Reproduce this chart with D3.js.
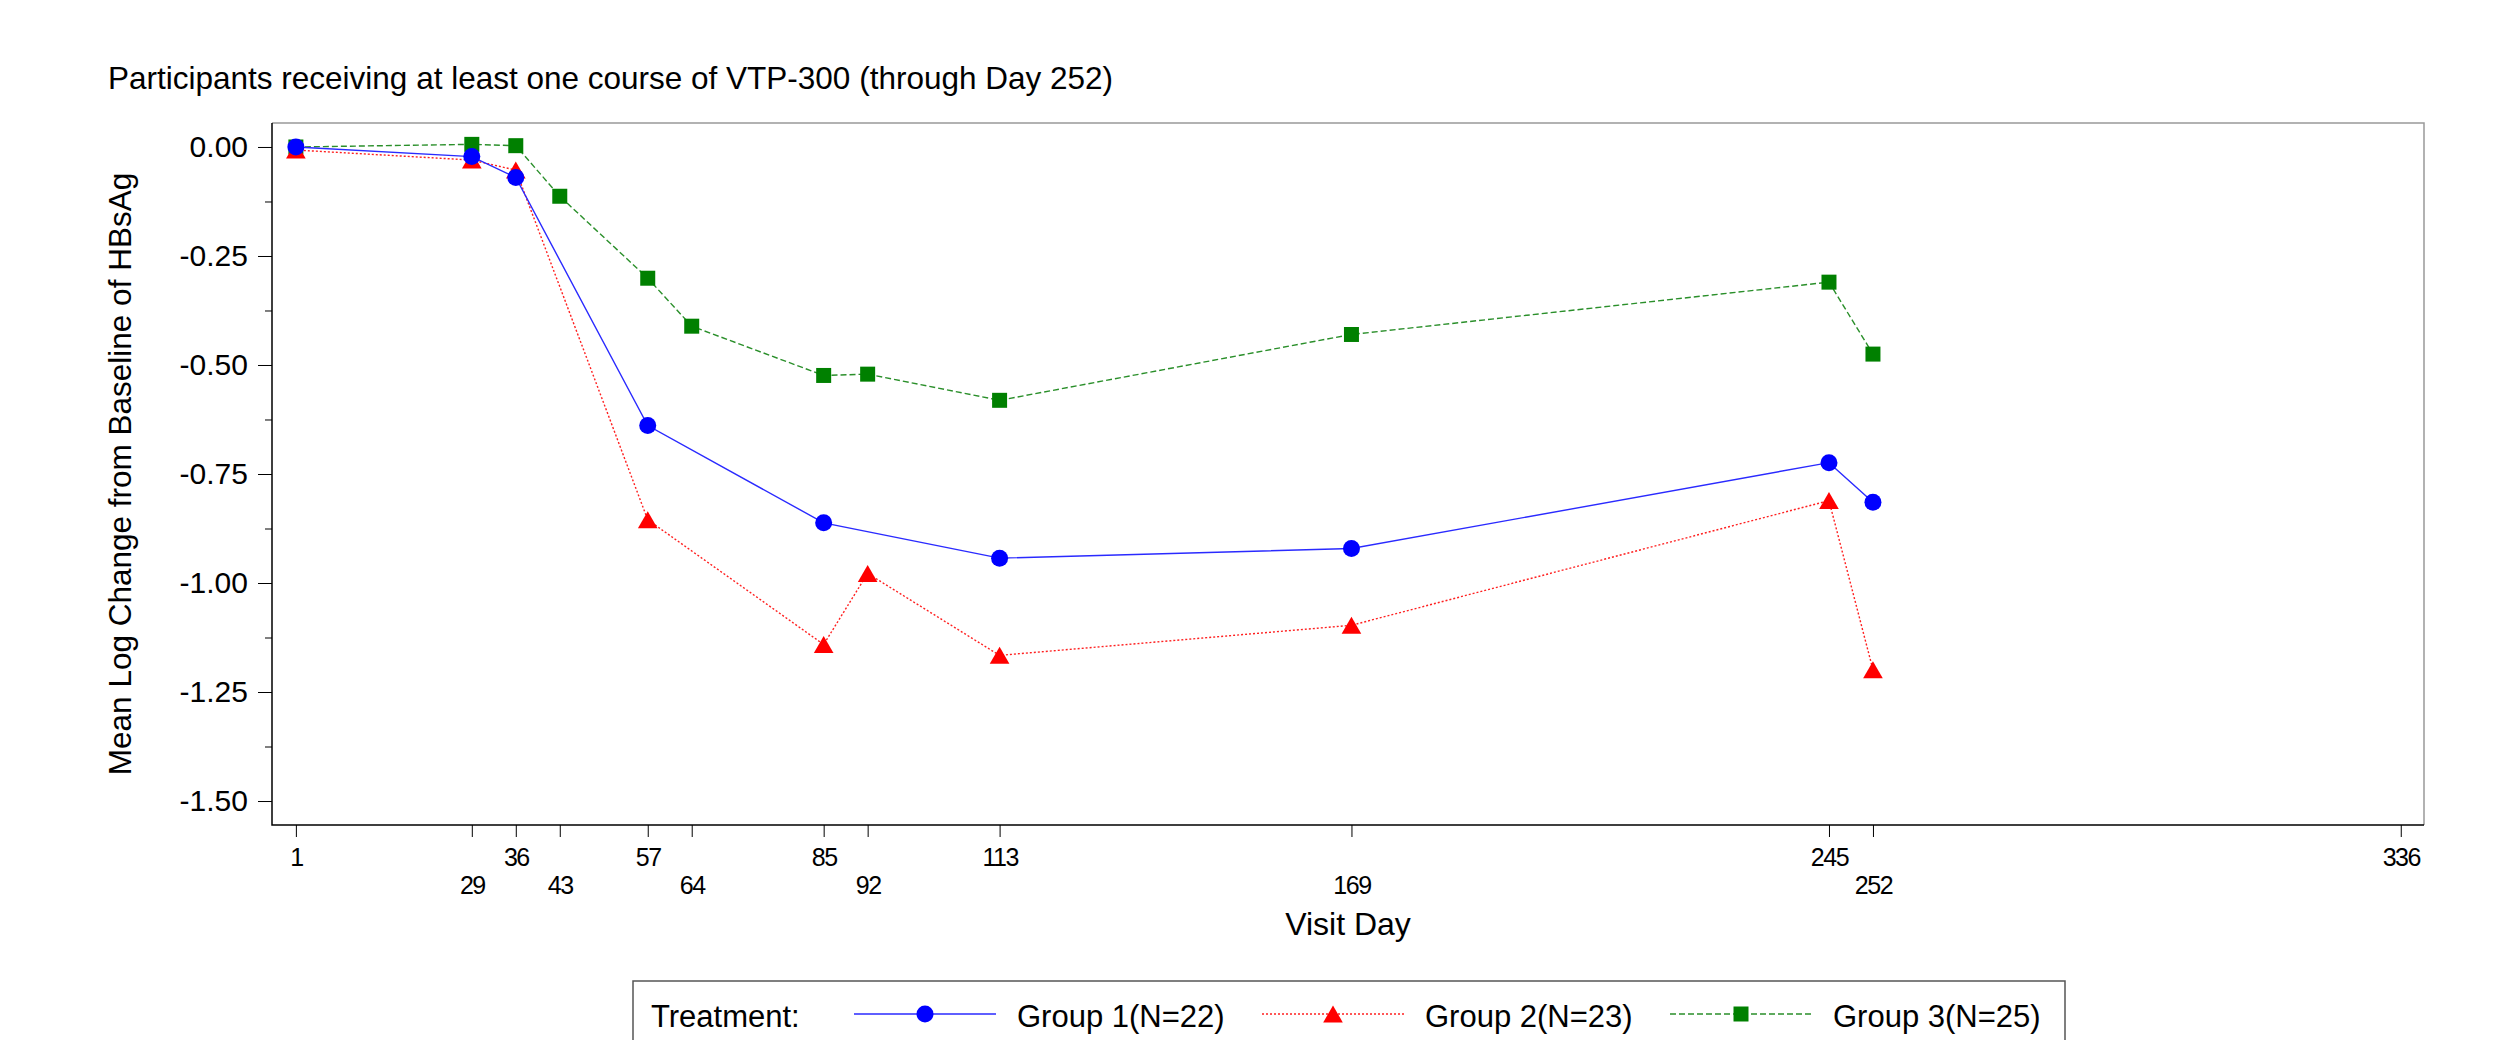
<!DOCTYPE html>
<html lang="en">
<head>
<meta charset="utf-8">
<script src="https://d3js.org/d3.v7.min.js"></script>
<style>
  body { margin: 0; background: #fff; }
  text { font-family: "Liberation Sans", Arial, sans-serif; fill: #000; }
</style>
</head>
<body>
<script>
// data
var tickDays = [1, 29, 36, 43, 57, 64, 85, 92, 113, 169, 245, 252, 336];
var yTicks = [0, -0.25, -0.5, -0.75, -1.0, -1.25, -1.5];
var yMinor = [-0.125, -0.375, -0.625, -0.875, -1.125, -1.375];

var g1Days = [1, 29, 36, 57, 85, 113, 169, 245, 252];
var g1Vals = [0.000, -0.022, -0.070, -0.639, -0.862, -0.943, -0.921, -0.724, -0.815];

var g2Days = [1, 29, 36, 57, 85, 92, 113, 169, 245, 252];
var g2Vals = [-0.007, -0.030, -0.053, -0.855, -1.141, -0.978, -1.166, -1.097, -0.811, -1.199];

var g3Days = [1, 29, 36, 43, 57, 64, 85, 92, 113, 169, 245, 252];
var g3Vals = [0.000, 0.006, 0.003, -0.113, -0.301, -0.411, -0.524, -0.521, -0.581, -0.430, -0.310, -0.475];

var groupNames = ["Group 1(N=22)", "Group 2(N=23)", "Group 3(N=25)"];

var w = 2500, h = 1040;
// plot area edges (note: "top" is reserved on window, so use prefixed names)
var pLeft = 272, pRight = 2424, pTop = 123, pBottom = 825;

var svg = d3.select("body").append("svg")
    .attr("width", w)
    .attr("height", h);

var xScale = d3.scaleLinear().domain([-2.8, 339.7]).range([pLeft, pRight]);
var yScale = d3.scaleLinear().domain([-1.555, 0.055]).range([pBottom, pTop]);

//subtitle
svg.append("text")
    .attr("x", 108).attr("y", 89)
    .style("font-size", "31.5px")
    .text("Participants receiving at least one course of VTP-300 (through Day 252)");

//frame: top/right grey, left/bottom black
svg.append("path")
    .attr("d", "M" + pLeft + "," + pTop + "H" + pRight + "V" + pBottom)
    .attr("fill", "none").attr("stroke", "#999").attr("stroke-width", 1.5);
svg.append("path")
    .attr("d", "M" + pLeft + "," + pTop + "V" + pBottom + "H" + pRight)
    .attr("fill", "none").attr("stroke", "#000").attr("stroke-width", 1.5);

//y axis
var yAxis = d3.axisLeft(yScale)
    .tickValues(yTicks)
    .tickSize(14)
    .tickPadding(10)
    .tickFormat(function(d) { return d.toFixed(2); });
var gy = svg.append("g")
    .attr("transform", "translate(" + pLeft + ",0)")
    .call(yAxis);
gy.select(".domain").remove();
gy.selectAll("text").style("font-size", "30px").style("font-family", "Liberation Sans, Arial, sans-serif");

var gyMinor = svg.append("g")
    .attr("transform", "translate(" + pLeft + ",0)")
    .call(d3.axisLeft(yScale).tickValues(yMinor).tickSize(7).tickFormat(""));
gyMinor.select(".domain").remove();

//x axis with staggered labels
var xAxis = d3.axisBottom(xScale)
    .tickValues(tickDays)
    .tickSize(12)
    .tickFormat(d3.format("d"));
var gx = svg.append("g")
    .attr("transform", "translate(0," + pBottom + ")")
    .call(xAxis);
gx.select(".domain").remove();
gx.selectAll("text")
    .attr("y", function(d, i) { return i % 2 ? 69 : 41; })
    .attr("dy", 0)
    .style("font-size", "25px")
    .style("letter-spacing", "-1.5px")
    .style("font-family", "Liberation Sans, Arial, sans-serif");

//axis titles
svg.append("text")
    .attr("x", (pLeft + pRight) / 2).attr("y", 935)
    .attr("text-anchor", "middle")
    .style("font-size", "32px")
    .text("Visit Day");

svg.append("text")
    .attr("transform", "translate(131," + ((pTop + pBottom) / 2) + ") rotate(-90)")
    .attr("text-anchor", "middle")
    .style("font-size", "31.5px")
    .text("Mean Log Change from Baseline of HBsAg");

//series
var series = [
    { days: g1Days, vals: g1Vals, color: "#0000ff", lineColor: "#2a2aff", dash: null, symbol: d3.symbolCircle, size: 227, dy: 0 },
    { days: g2Days, vals: g2Vals, color: "#ff0000", lineColor: "#ff2020", dash: "2,2", symbol: d3.symbolTriangle, size: 167, dy: 2.8 },
    { days: g3Days, vals: g3Vals, color: "#008000", lineColor: "#2a8f2a", dash: "6,3", symbol: d3.symbolSquare, size: 225, dy: 0 }
];

var line = d3.line()
    .x(function(d) { return xScale(d[0]); })
    .y(function(d) { return yScale(d[1]); });

//draw in reverse so group 1 sits on top
series.slice().reverse().forEach(function(s) {
    var pts = s.days.map(function(d, i) { return [d, s.vals[i]]; });
    svg.append("path")
        .datum(pts)
        .attr("fill", "none")
        .attr("stroke", s.lineColor)
        .attr("stroke-width", 1.4)
        .attr("stroke-dasharray", s.dash)
        .attr("d", line);
    svg.selectAll(null)
        .data(pts)
        .enter()
        .append("path")
        .attr("d", d3.symbol().type(s.symbol).size(s.size))
        .attr("transform", function(d) { return "translate(" + xScale(d[0]) + "," + (yScale(d[1]) + s.dy) + ")"; })
        .attr("fill", s.color);
});

//legend
svg.append("rect")
    .attr("x", 633).attr("y", 981)
    .attr("width", 1432).attr("height", 90)
    .attr("fill", "none")
    .attr("stroke", "#555")
    .attr("stroke-width", 1.5);

svg.append("text")
    .attr("x", 651).attr("y", 1027)
    .style("font-size", "31px")
    .text("Treatment:");

var legX = [854, 1262, 1670];
series.forEach(function(s, i) {
    var lg = svg.append("g").attr("transform", "translate(" + legX[i] + ",1014)");
    lg.append("line")
        .attr("x1", 0).attr("x2", 142)
        .attr("stroke", s.lineColor)
        .attr("stroke-width", 1.4)
        .attr("stroke-dasharray", s.dash);
    lg.append("path")
        .attr("d", d3.symbol().type(s.symbol).size(s.size))
        .attr("transform", "translate(71," + s.dy + ")")
        .attr("fill", s.color);
    lg.append("text")
        .attr("x", 163).attr("y", 13)
        .style("font-size", "31px")
        .text(groupNames[i]);
});
</script>
</body>
</html>
